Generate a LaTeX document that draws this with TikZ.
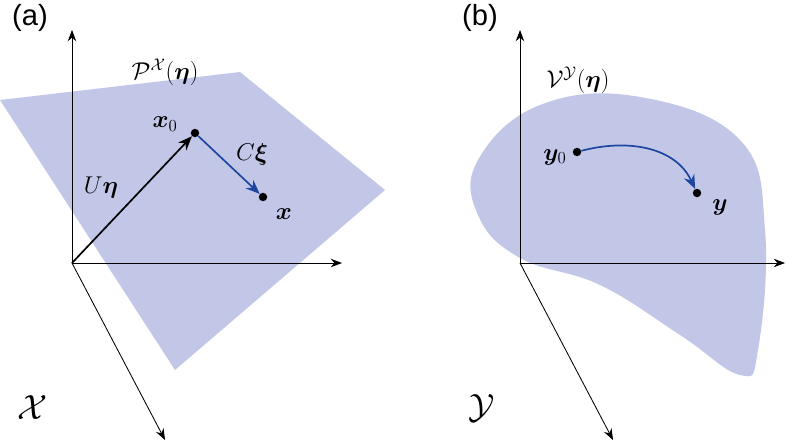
\documentclass[tikz,border=0pt]{standalone}
\usepackage{amsmath,bm}
\usepackage{fontspec}
\setmainfont{Liberation Sans}
\usetikzlibrary{arrows.meta}
\definecolor{planec}{RGB}{194,199,232}
\definecolor{arrblue}{RGB}{30,70,160}
\tikzset{axis/.style={-{Stealth[length=8pt,width=6pt]},line width=0.6pt},
 dotc/.style={circle,fill=black,inner sep=0pt,minimum size=6pt},
 lbl/.style={font=\LARGE},
 plbl/.style={font=\huge},
 barrow/.style={-{Stealth[length=10pt,width=8pt]},arrblue,line width=1.2pt}}
\begin{document}
\begin{tikzpicture}[x=0.025cm,y=-0.025cm]
\useasboundingbox (0,0) rectangle (800,446);
% panel a
\fill[planec] (0,100) -- (240,72) -- (385,190) -- (175,370) -- cycle;
\coordinate (oa) at (72,263);
\coordinate (ua) at (72,30);
\coordinate (ra) at (342,263);
\coordinate (da) at (165,440);
\draw[axis] (oa) -- (ua);
\draw[axis] (oa) -- (ra);
\draw[axis] (oa) -- (da);
\node[dotc] (x0) at (195,133) {};
\node[dotc] (x) at (263,197) {};
\draw[-{Stealth[length=10pt,width=8pt]},line width=1.2pt] (oa) -- (x0);
\draw[barrow] (x0) -- (x);
\node[plbl] (la) at (30,18) {(a)};
\node[lbl] (P) at (165,72) {$\mathcal{P}^{\mathcal{X}}(\bm{\eta})$};
\node[lbl] (x0l) at (165,124) {$\bm{x}_0$};
\node[lbl] (Ul) at (101,188) {$U\bm{\eta}$};
\node[lbl] (Cl) at (252,154) {$C\bm{\xi}$};
\node[lbl] (xl) at (284,214) {$\bm{x}$};
\node[font=\Huge] (Xl) at (33,408) {$\mathcal{X}$};
% panel b
\fill[planec] plot[smooth cycle,tension=0.7] coordinates {(478,160) (540,105) (640,97) (740,140) (765,230) (758,350) (740,375) (680,335) (600,285) (520,258) (478,215)};
\coordinate (ob) at (520,263);
\coordinate (ub) at (520,30);
\coordinate (rb) at (785,263);
\coordinate (db) at (613,440);
\draw[axis] (ob) -- (ub);
\draw[axis] (ob) -- (rb);
\draw[axis] (ob) -- (db);
\node[dotc] (y0) at (577,152) {};
\node[dotc] (y) at (697,193) {};
\draw[barrow] (y0) to[out=15,in=115] (y);
\node[plbl] (lb) at (480,18) {(b)};
\node[lbl] (V) at (578,80) {$\mathcal{V}^{\mathcal{Y}}(\bm{\eta})$};
\node[lbl] (y0l) at (555,157) {$\bm{y}_0$};
\node[lbl] (yl) at (720,207) {$\bm{y}$};
\node[font=\Huge] (Yl) at (482,408) {$\mathcal{Y}$};
\end{tikzpicture}
\end{document}
